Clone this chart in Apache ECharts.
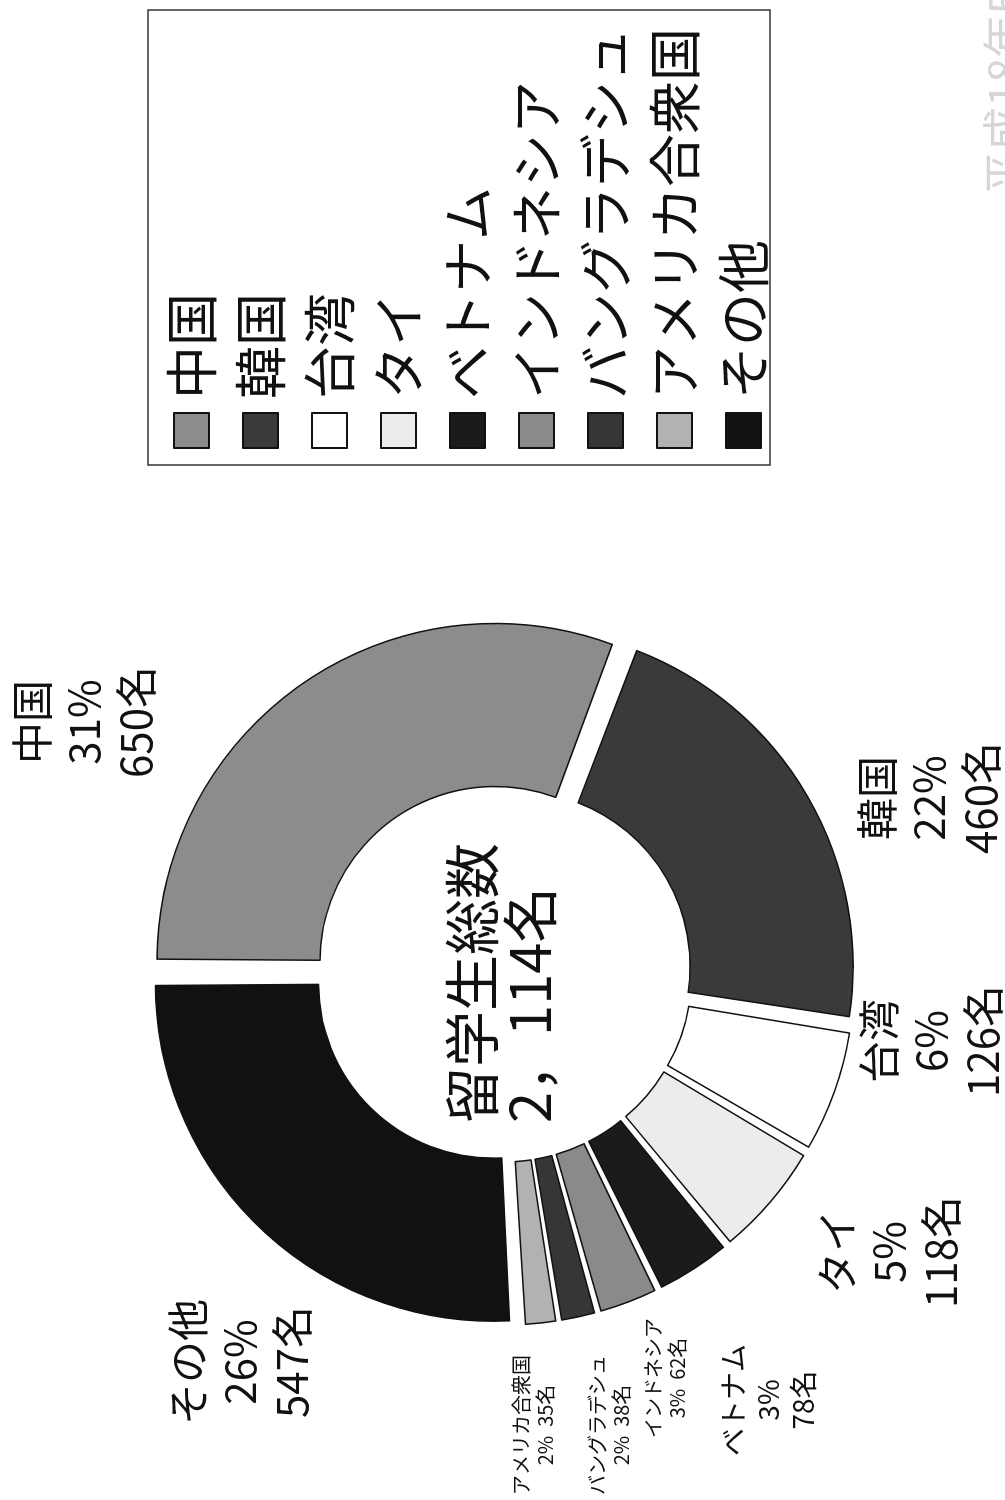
<!DOCTYPE html>
<html><head><meta charset="utf-8">
<script src="https://cdn.jsdelivr.net/npm/echarts@6/dist/echarts.min.js"></script>
<style>
html,body{margin:0;padding:0;width:1005px;height:1500px;overflow:hidden;background:#fff;}
#chart{position:absolute;left:0;top:0;width:1500px;height:1005px;transform-origin:0 0;transform:translate(0px,1500px) rotate(-90deg);}
</style></head><body><div id="chart"></div>
<script>
// ---- data ----
const countries = ['中国','韓国','台湾','タイ','ベトナム','インドネシア','バングラデシュ','アメリカ合衆国','その他'];
const students = [650, 460, 126, 118, 78, 62, 38, 35, 547];
const pctLabels = ['31%','22%','6%','5%','3%','3%','2%','2%','26%'];
const totalTitle = '留学生総数';
const noteText = '平成18年5月1日現在）';

// ---- styles (kept apart from data) ----
const sliceColors = ['#8c8c8c','#3a3a3a','#ffffff','#ececec','#1b1b1b','#8a8a8a','#363636','#b2b2b2','#111111'];
const labelFont = [42,42,42,42,28,20,20,20,42];
const labelLH   = [52,52,52,52,35,24,24,24,52];
const compactLabel = [false,false,false,false,false,true,true,true,false];
const labelPos = [[778,84],[702,929],[459,931],[248,889],[100,768],[122,665],[75,609],[75,533],[138,240]];
const FONT = '"Noto Sans CJK JP","Noto Sans",sans-serif';

const total = students.reduce((a,b)=>a+b,0);
const totalStr = String(total).replace(/\B(?=(\d{3})+(?!\d))/g, '，') + '名';

const chart = echarts.init(document.getElementById('chart'), null, {renderer:'canvas', width:1500, height:1005});

const pieData = countries.map((n,i)=>({
  name: n,
  value: students[i],
  selected: true,
  itemStyle: {color: sliceColors[i]}
}));

function labelText(i){
  if (compactLabel[i]) return countries[i] + '\n' + pctLabels[i] + '  ' + students[i] + '名';
  return countries[i] + '\n' + pctLabels[i] + '\n' + students[i] + '名';
}

const labelGraphics = countries.map((n,i)=>({
  type:'text', silent:true, x: labelPos[i][0], y: labelPos[i][1],
  style:{text: labelText(i), font: labelFont[i] + 'px ' + FONT, lineHeight: labelLH[i],
         fill:'#111', align:'center', verticalAlign:'middle'}
}));

chart.setOption({
  animation: false,
  backgroundColor: '#ffffff',
  legend: {
    orient: 'vertical',
    left: 1046,
    top: 160,
    height: 800,
    itemWidth: 35,
    itemHeight: 35,
    itemGap: 16,
    icon: 'rect',
    selectedMode: false,
    data: countries,
    itemStyle: {borderColor: '#111', borderWidth: 2},
    textStyle: {fontSize: 53, color: '#111', fontFamily: FONT, padding: [0,0,0,9]}
  },
  graphic: [
    {type:'rect', silent:true, shape:{x:1035, y:148, width:455, height:622},
     style:{fill:'none', stroke:'#333', lineWidth:1.5}},
    {type:'text', silent:true, x:377, y:501,
     style:{text: totalTitle + '\n' + totalStr, font: '56px ' + FONT, lineHeight:58, fill:'#111', align:'left', verticalAlign:'middle'}},
    {type:'text', silent:true, x:1305, y:982,
     style:{text: noteText, font: '44px ' + FONT, fill:'#d6d6d6', verticalAlign:'top'}}
  ].concat(labelGraphics),
  series: [{
    type: 'pie',
    center: [527, 503],
    radius: [175, 338],
    startAngle: 90,
    clockwise: true,
    padAngle: 0.8,
    selectedMode: 'multiple',
    selectedOffset: 14,
    emphasis: {disabled: true, scale: false},
    itemStyle: {borderColor: '#111', borderWidth: 1.5},
    label: {show: false},
    labelLine: {show: false},
    data: pieData
  }]
});
</script></body></html>
